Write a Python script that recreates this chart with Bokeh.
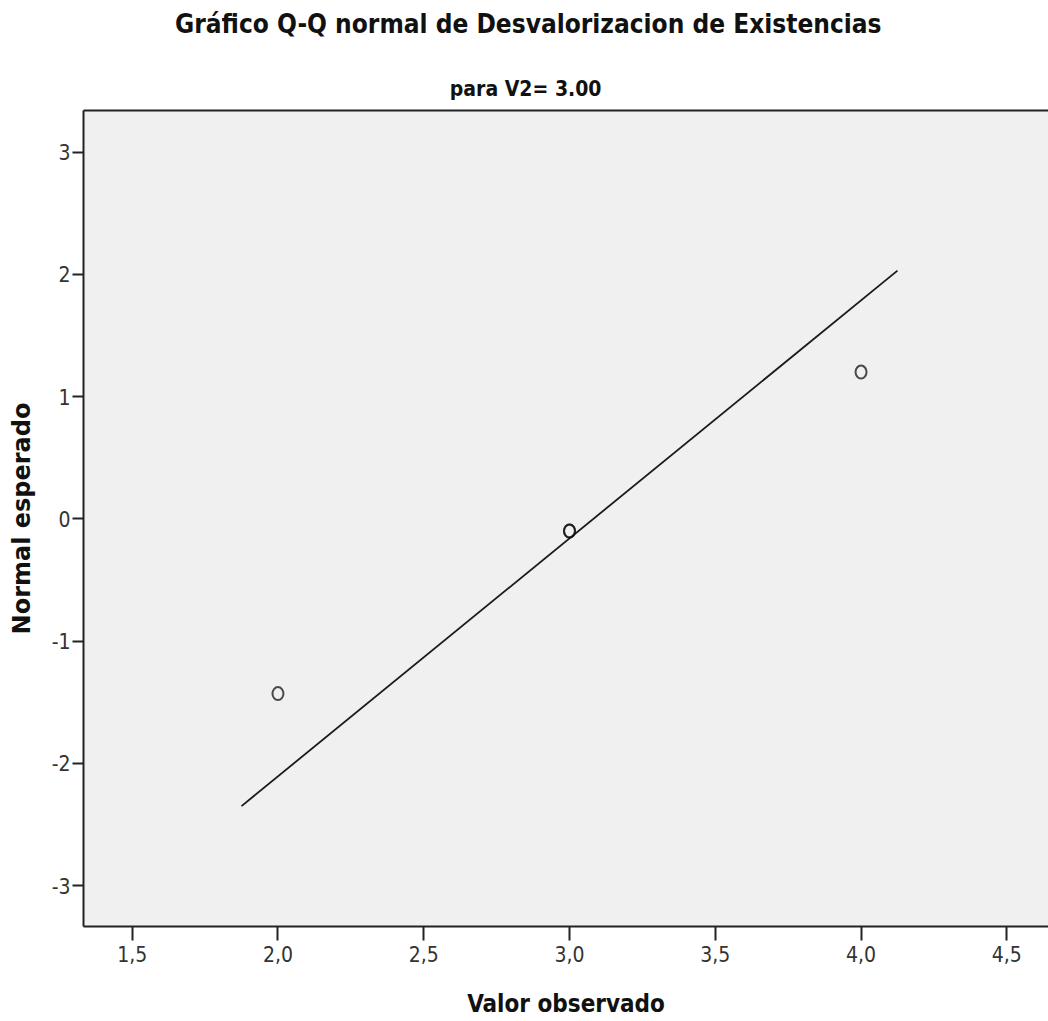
from bokeh.plotting import figure
from bokeh.models import Range1d, FixedTicker, Title, LinearAxis
from bokeh.embed import file_html
from bokeh.resources import INLINE

# Data
observed = [2.0, 3.0, 3.0, 4.0]
expected_normal = [-1.43, -0.10, -0.10, 1.20]
line_x = [1.875, 4.125]
line_y = [-2.35, 2.03]

x_ticks = [1.5, 2.0, 2.5, 3.0, 3.5, 4.0, 4.5]
x_tick_labels = ["1,5", "2,0", "2,5", "3,0", "3,5", "4,0", "4,5"]
y_ticks = [-3, -2, -1, 0, 1, 2, 3]
y_tick_labels = ["-3", "-2", "-1", "0", "1", "2", "3"]

TITLE = "Gráfico Q-Q normal de Desvalorizacion de Existencias"
SUBTITLE = "para V2= 3.00"

NARROW = "'DejaVu Sans Condensed', sans-serif"
INK = "#222222"

p = figure(width=1048, height=1021, output_backend="svg", toolbar_location=None,
           x_range=Range1d(1.333, 4.643), y_range=Range1d(-3.335, 3.34),
           min_border_left=83, min_border_right=0, min_border_bottom=95, min_border_top=0)

p.background_fill_color = "#f0f0f0"
p.border_fill_color = "white"
p.outline_line_color = None
p.xgrid.visible = False
p.ygrid.visible = False

# fit line and points
p.line(line_x, line_y, line_color="#1a1a1a", line_width=1.8)
p.ellipse(observed, expected_normal, width=11, height=13,
          width_units="screen", height_units="screen",
          fill_color=None, line_color="#111111", line_alpha=0.75, line_width=2)

# axes
xa = p.xaxis[0]
xa.ticker = FixedTicker(ticks=x_ticks)
xa.major_label_overrides = dict(zip(x_ticks, x_tick_labels))
xa.axis_label = "Valor observado"
ya = p.yaxis[0]
ya.ticker = FixedTicker(ticks=y_ticks)
ya.major_label_overrides = dict(zip(y_ticks, y_tick_labels))
ya.axis_label = "Normal esperado"

for ax in (xa, ya):
    ax.axis_line_color = INK
    ax.axis_line_width = 2
    ax.major_tick_line_color = INK
    ax.major_tick_line_width = 2
    ax.minor_tick_line_color = None
    ax.major_tick_in = 0
    ax.major_label_text_font = NARROW
    ax.major_label_text_font_size = "21px"
    ax.major_label_text_color = "#333333"
    ax.axis_label_text_font_style = "bold"
    ax.axis_label_text_color = "#111111"

xa.major_tick_out = 14
xa.major_label_standoff = 5
xa.axis_label_text_font = NARROW
xa.axis_label_text_font_size = "24px"
xa.axis_label_standoff = 25

ya.major_tick_out = 11
ya.major_label_standoff = 2
ya.axis_label_text_font = "DejaVu Sans"
ya.axis_label_text_font_size = "24px"
ya.axis_label_standoff = 13

# top border
top = LinearAxis(ticker=FixedTicker(ticks=[]), major_label_text_font_size="0px",
                 axis_line_color=INK, axis_line_width=2,
                 major_tick_line_color=None, minor_tick_line_color=None)
p.add_layout(top, "above")

sub = Title(text=SUBTITLE, align="right", offset=447,
            text_font=NARROW, text_font_size="21px", text_font_style="bold",
            text_color="#111111", standoff=19)
p.add_layout(sub, "above")
spacer = Title(text="\u00a0", text_font_size="10px", standoff=8)
p.add_layout(spacer, "above")
ttl = Title(text=TITLE, align="right", offset=167,
            text_font=NARROW, text_font_size="26px", text_font_style="bold",
            text_color="#111111", standoff=12)
p.add_layout(ttl, "above")

open("out.html", "w").write(file_html(p, INLINE))
